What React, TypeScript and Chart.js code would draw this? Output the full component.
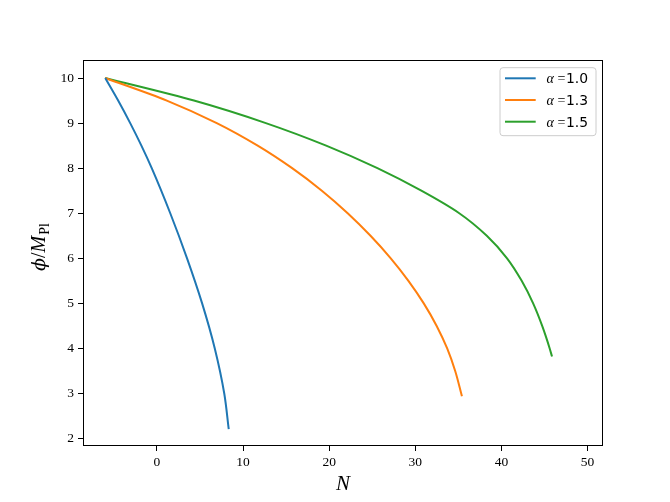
import { useEffect, useRef } from "react";
import { Chart, registerables } from "chart.js";

Chart.register(...registerables);

// alpha = 1.0
const blueN = [-6, -4.5, -3.1, -1.8, -0.6, 1.55, 3.5, 5.25, 6.72, 7.82, 8.34];
const bluePhi = [10, 9.5, 9, 8.5, 8, 7, 6, 5, 4, 3, 2.21];
// alpha = 1.3
const orangeN = [-6, 1.15, 6.95, 11.7, 15.7, 19.15, 22.15, 24.8, 27.15, 29.2, 30.98, 32.48, 33.7, 34.63, 35.33, 35.41];
const orangePhi = [10, 9.5, 9, 8.5, 8, 7.5, 7, 6.5, 6, 5.5, 5, 4.5, 4, 3.5, 3, 2.94];
// alpha = 1.5
const greenN = [-6, 4.3, 12.65, 19.65, 25.6, 30.7, 35.1, 38.3, 40.65, 42.35, 43.68, 44.73, 45.6, 45.87];
const greenPhi = [10, 9.5, 9, 8.5, 8, 7.5, 7, 6.5, 6, 5.5, 5, 4.5, 4, 3.82];

const alphaLabels = ["1.0", "1.3", "1.5"];
const seriesColors = ["#1f77b4", "#ff7f0e", "#2ca02c"];
const xTicks = [0, 10, 20, 30, 40, 50];
const yTicks = [2, 3, 4, 5, 6, 7, 8, 9, 10];
const xLimits = [-8.58, 51.79];
const yLimits = [1.836, 10.4];

const toPoints = (xs: number[], ys: number[]) => xs.map((x, i) => ({ x, y: ys[i] }));

const decorPlugin = {
  id: "decor",
  afterDraw(chart: any) {
    const ctx = chart.ctx as CanvasRenderingContext2D;
    const a = chart.chartArea;
    ctx.save();
    // frame
    ctx.strokeStyle = "#000";
    ctx.lineWidth = 1;
    ctx.strokeRect(a.left + 0.5, a.top + 0.5, a.right - a.left - 1, a.bottom - a.top - 1);

    // legend
    const bx = a.right - 103, by = a.top + 7.7, bw = 96, bh = 68;
    const r = 3;
    ctx.beginPath();
    ctx.moveTo(bx + r, by);
    ctx.lineTo(bx + bw - r, by);
    ctx.quadraticCurveTo(bx + bw, by, bx + bw, by + r);
    ctx.lineTo(bx + bw, by + bh - r);
    ctx.quadraticCurveTo(bx + bw, by + bh, bx + bw - r, by + bh);
    ctx.lineTo(bx + r, by + bh);
    ctx.quadraticCurveTo(bx, by + bh, bx, by + bh - r);
    ctx.lineTo(bx, by + r);
    ctx.quadraticCurveTo(bx, by, bx + r, by);
    ctx.closePath();
    ctx.fillStyle = "rgba(255,255,255,0.8)";
    ctx.fill();
    ctx.strokeStyle = "#cccccc";
    ctx.stroke();
    alphaLabels.forEach((lab, i) => {
      const yy = by + 10.6 + i * 21.7;
      ctx.strokeStyle = seriesColors[i];
      ctx.lineWidth = 2;
      ctx.beginPath();
      ctx.moveTo(bx + 5, yy);
      ctx.lineTo(bx + 35.7, yy);
      ctx.stroke();
      ctx.fillStyle = "#000";
      ctx.textBaseline = "alphabetic";
      ctx.textAlign = "left";
      ctx.font = 'italic 14px "Liberation Serif"';
      ctx.fillText("α", bx + 46.5, yy + 5);
      ctx.font = '14px "Liberation Serif"';
      ctx.fillText("=", bx + 57.5, yy + 5);
      ctx.font = '13.9px "DejaVu Sans"';
      ctx.fillText(lab, bx + 66, yy + 5);
    });

    // x title
    ctx.fillStyle = "#000";
    ctx.font = 'italic 21px "Liberation Serif"';
    ctx.textAlign = "center";
    ctx.textBaseline = "alphabetic";
    ctx.fillText("N", (a.left + a.right) / 2, 490);

    // y title
    const mainFont = '20px "Liberation Serif"';
    const phiFont = 'italic 19px "DejaVu Serif"';
    const mFont = 'italic 20px "Liberation Serif"';
    const subFont = '14px "Liberation Serif"';
    ctx.font = phiFont;
    const w1 = ctx.measureText("ϕ").width;
    ctx.font = mainFont;
    const w2 = ctx.measureText("/").width;
    ctx.font = mFont;
    const w3 = ctx.measureText("M").width;
    ctx.font = subFont;
    const w4 = ctx.measureText("Pl").width;
    const total = w1 + w2 + w3 + w4 + 1;
    ctx.translate(45, 247 + total / 2);
    ctx.rotate(-Math.PI / 2);
    ctx.textAlign = "left";
    let cx = 0;
    ctx.font = phiFont;
    ctx.fillText("ϕ", cx, 0);
    cx += w1;
    ctx.font = mainFont;
    ctx.fillText("/", cx, 0);
    cx += w2;
    ctx.font = mFont;
    ctx.fillText("M", cx, 0);
    cx += w3 + 1;
    ctx.font = subFont;
    ctx.fillText("Pl", cx, 4);
    ctx.restore();
  },
};

export default function App() {
  const ref = useRef<HTMLCanvasElement>(null);
  useEffect(() => {
    if (!ref.current) return;
    const tickFont = { family: '"Liberation Serif"', size: 13.5 };
    const chart = new Chart(ref.current, {
      type: "line",
      data: {
        datasets: [
          { label: "α =" + alphaLabels[0], data: toPoints(blueN, bluePhi) },
          { label: "α =" + alphaLabels[1], data: toPoints(orangeN, orangePhi) },
          { label: "α =" + alphaLabels[2], data: toPoints(greenN, greenPhi) },
        ].map((d, i) => ({
          ...d,
          borderColor: seriesColors[i],
          backgroundColor: seriesColors[i],
          borderWidth: 2,
          pointRadius: 0,
          fill: false,
          cubicInterpolationMode: "monotone" as const,
        })),
      },
      options: {
        animation: false,
        responsive: false,
        devicePixelRatio: 1,
        indexAxis: "y",
        layout: { padding: { top: 60, right: 67, bottom: 0, left: 0 } },
        plugins: { legend: { display: false }, tooltip: { enabled: false } },
        scales: {
          x: {
            type: "linear",
            position: "bottom",
            min: xLimits[0],
            max: xLimits[1],
            afterBuildTicks: (s: any) => {
              s.ticks = xTicks.map((v) => ({ value: v }));
            },
            afterFit: (s: any) => {
              s.height = 56;
            },
            grid: { display: true, drawOnChartArea: false, drawTicks: true, tickLength: 5, tickColor: "#000", tickWidth: 1 },
            border: { display: false },
            ticks: { font: tickFont, color: "#000", padding: 3, maxRotation: 0, autoSkip: false },
          },
          y: {
            type: "linear",
            position: "left",
            min: yLimits[0],
            max: yLimits[1],
            afterBuildTicks: (s: any) => {
              s.ticks = yTicks.map((v) => ({ value: v }));
            },
            afterFit: (s: any) => {
              s.width = 83;
            },
            grid: { display: true, drawOnChartArea: false, drawTicks: true, tickLength: 5, tickColor: "#000", tickWidth: 1 },
            border: { display: false },
            ticks: { font: tickFont, color: "#000", padding: 4, autoSkip: false },
          },
        },
      },
      plugins: [decorPlugin],
    });
    return () => chart.destroy();
  }, []);
  return (
    <div style={{ position: "absolute", left: 0, top: 0, width: 670, height: 502, background: "#fff" }}>
      <canvas ref={ref} width={670} height={502} style={{ display: "block" }} />
    </div>
  );
}
